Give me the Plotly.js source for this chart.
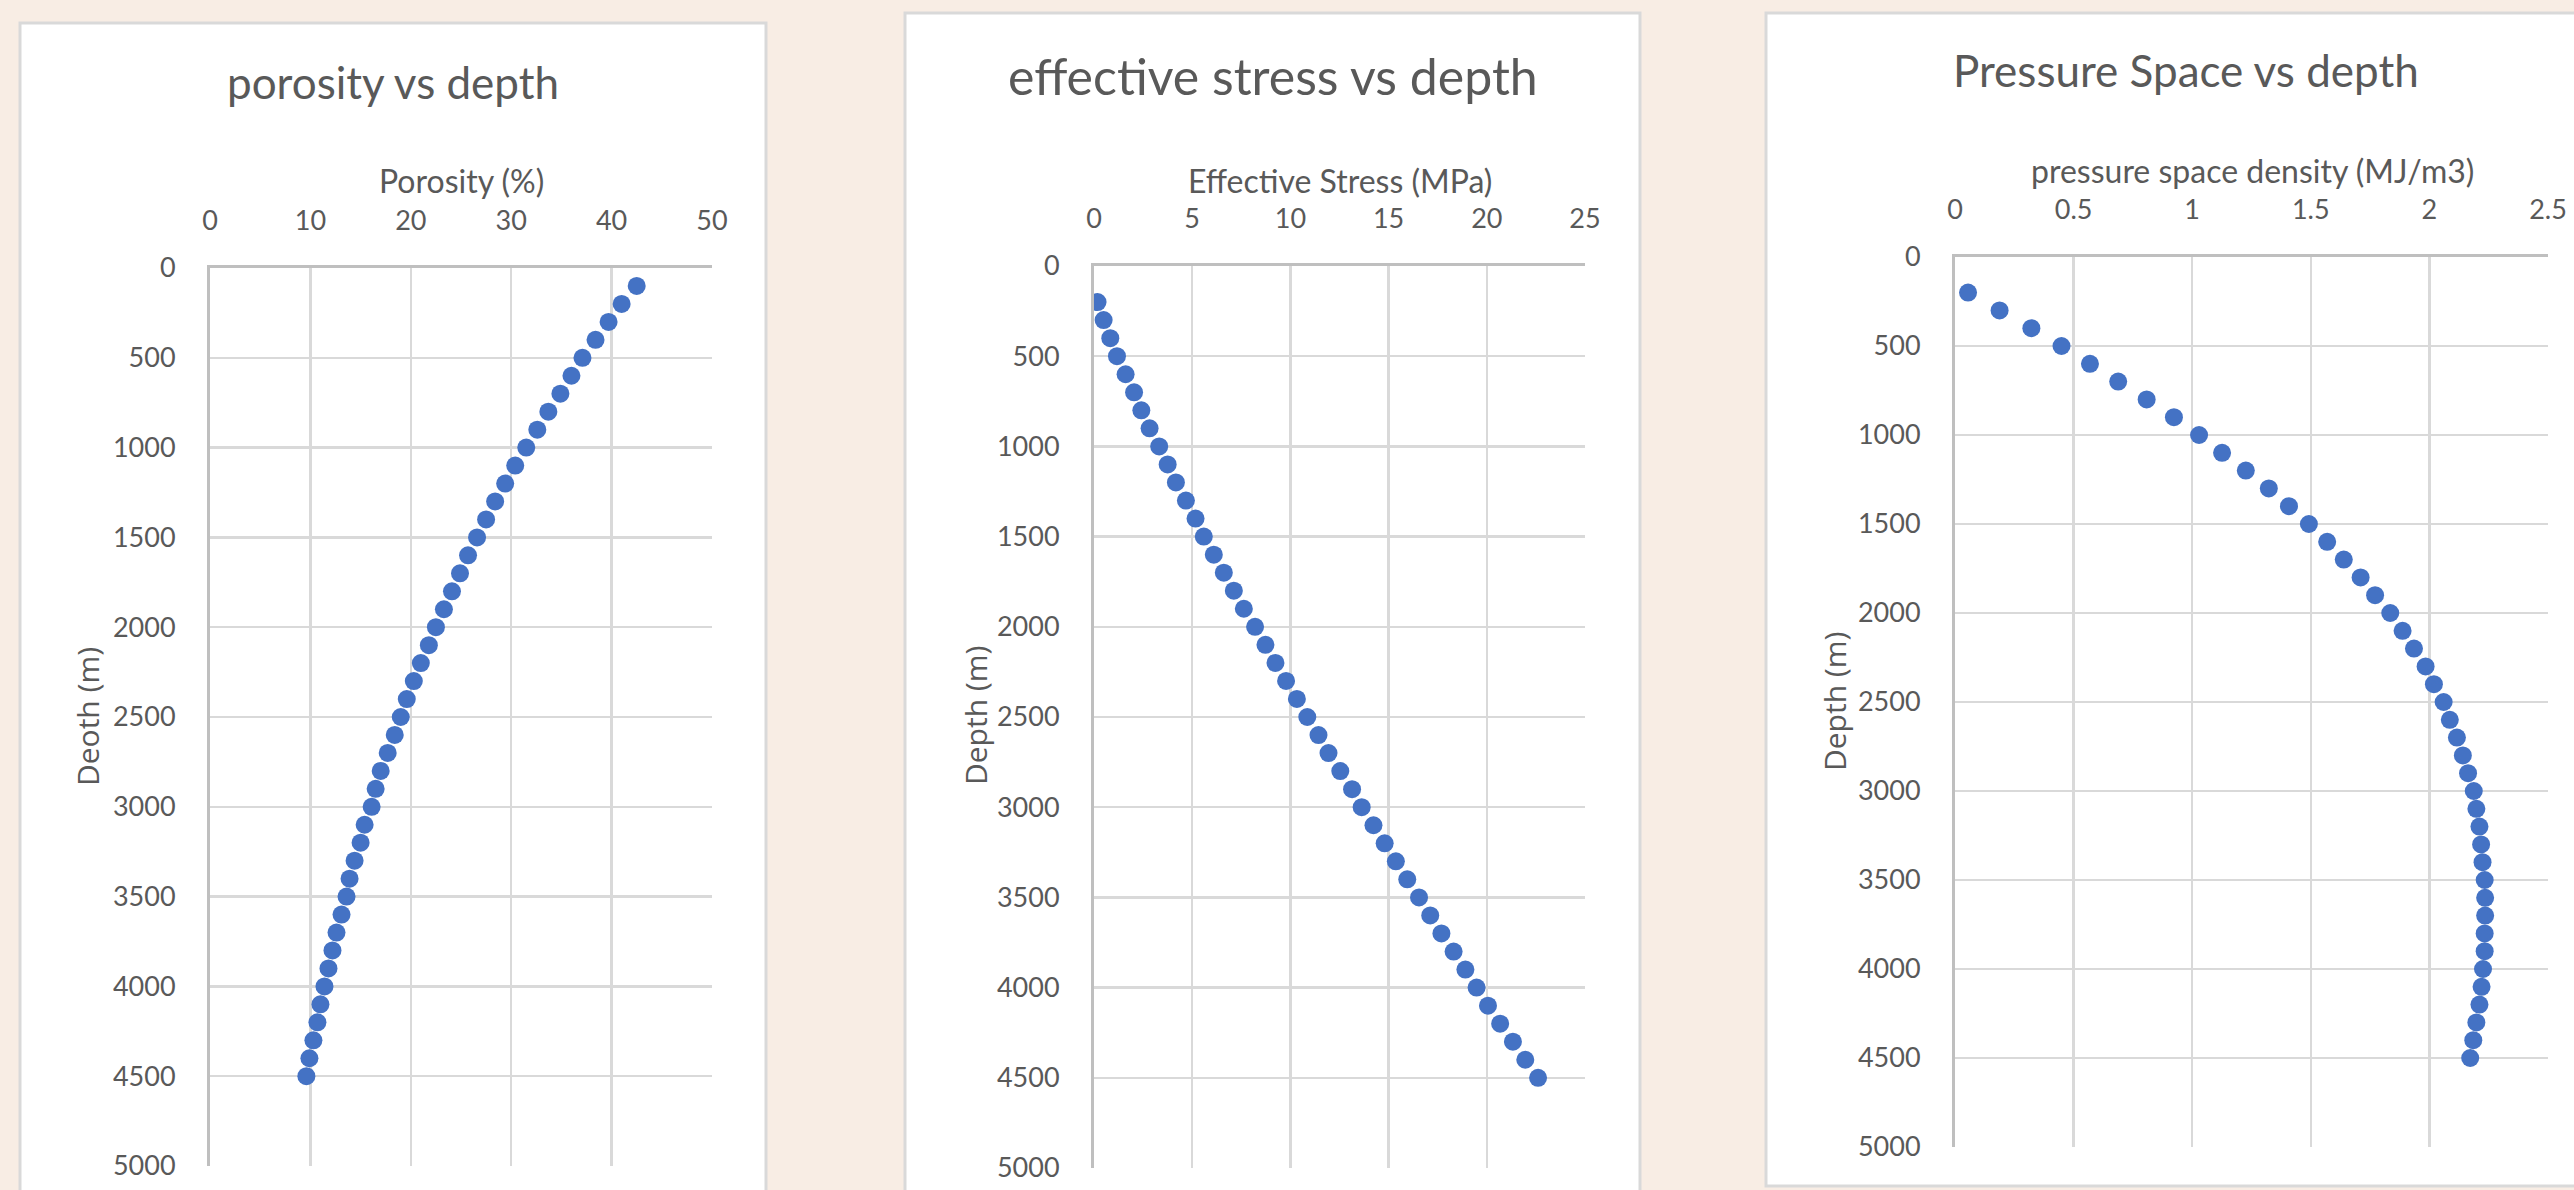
<!DOCTYPE html>
<html>
<head>
<meta charset="utf-8">
<script src="https://cdn.plot.ly/plotly-3.0.1.min.js"></script>
<style>
  html, body { margin: 0; padding: 0; background: #F8EDE4; }
  #chart { width: 2574px; height: 1190px; }
</style>
</head>
<body>
<div id="chart"></div>
<script>
// Depth samples (m) for each well-log panel
const depthPorosity = [100, 200, 300, 400, 500, 600, 700, 800, 900, 1000,
  1100, 1200, 1300, 1400, 1500, 1600, 1700, 1800, 1900, 2000,
  2100, 2200, 2300, 2400, 2500, 2600, 2700, 2800, 2900, 3000,
  3100, 3200, 3300, 3400, 3500, 3600, 3700, 3800, 3900, 4000,
  4100, 4200, 4300, 4400, 4500];
const porosity = [42.5, 41.0, 39.7, 38.4, 37.1, 36.0, 34.9, 33.7, 32.6, 31.5,
  30.4, 29.4, 28.4, 27.5, 26.6, 25.7, 24.9, 24.1, 23.3, 22.5,
  21.8, 21.0, 20.3, 19.6, 19.0, 18.4, 17.7, 17.0, 16.5, 16.1,
  15.4, 15.0, 14.4, 13.9, 13.6, 13.1, 12.6, 12.2, 11.8, 11.4,
  11.0, 10.7, 10.3, 9.9, 9.6];

const depthStress = [200, 300, 400, 500, 600, 700, 800, 900, 1000,
  1100, 1200, 1300, 1400, 1500, 1600, 1700, 1800, 1900, 2000,
  2100, 2200, 2300, 2400, 2500, 2600, 2700, 2800, 2900, 3000,
  3100, 3200, 3300, 3400, 3500, 3600, 3700, 3800, 3900, 4000,
  4100, 4200, 4300, 4400, 4500];
const effectiveStress = [0.18, 0.49, 0.83, 1.17, 1.61, 2.04, 2.41, 2.83, 3.32,
  3.75, 4.17, 4.68, 5.17, 5.59, 6.10, 6.61, 7.12, 7.63, 8.20,
  8.73, 9.24, 9.78, 10.33, 10.86, 11.43, 11.94, 12.54, 13.14, 13.63,
  14.23, 14.80, 15.37, 15.95, 16.55, 17.12, 17.69, 18.31, 18.91, 19.48,
  20.06, 20.68, 21.33, 21.96, 22.61];

const depthPressure = [200, 300, 400, 500, 600, 700, 800, 900, 1000,
  1100, 1200, 1300, 1400, 1500, 1600, 1700, 1800, 1900, 2000,
  2100, 2200, 2300, 2400, 2500, 2600, 2700, 2800, 2900, 3000,
  3100, 3200, 3300, 3400, 3500, 3600, 3700, 3800, 3900, 4000,
  4100, 4200, 4300, 4400, 4500];
const pressureSpace = [0.055, 0.188, 0.322, 0.449, 0.569, 0.688, 0.808, 0.923, 1.029,
  1.126, 1.226, 1.323, 1.408, 1.492, 1.569, 1.639, 1.710, 1.771, 1.835,
  1.887, 1.935, 1.984, 2.019, 2.060, 2.086, 2.116, 2.141, 2.163, 2.187,
  2.198, 2.211, 2.218, 2.224, 2.233, 2.235, 2.235, 2.233, 2.233, 2.226,
  2.220, 2.211, 2.198, 2.185, 2.172];

// Text for each panel
const panelTitles = ['porosity vs depth', 'effective stress vs depth', 'Pressure Space vs depth'];
const xTitles = ['Porosity (%)', 'Effective Stress (MPa)', 'pressure space density (MJ/m3)'];
const yTitles = ['Deoth (m)', 'Depth (m)', 'Depth (m)'];

const W = 2574, H = 1190;
const px = v => v / W;
const py = v => 1 - v / H;

const TXT = '#595959';
const GRID = '#D9D9D9';
const AXIS = '#BFBFBF';
const BLUE = '#4472C4';
const tickFont = { family: 'Lato, sans-serif', size: 27, color: TXT };

const marker = { color: BLUE, size: 18, line: { width: 0 } };

const traces = [
  { x: porosity, y: depthPorosity, xaxis: 'x', yaxis: 'y', mode: 'markers', type: 'scatter', marker },
  { x: effectiveStress, y: depthStress, xaxis: 'x2', yaxis: 'y2', mode: 'markers', type: 'scatter', marker },
  { x: pressureSpace, y: depthPressure, xaxis: 'x3', yaxis: 'y3', mode: 'markers', type: 'scatter', marker }
];

// Plot-area boxes in pixels: [left, right, top, bottom]
const boxes = [[210, 712, 268, 1166], [1094, 1585, 266, 1168], [1955, 2548, 257, 1147]];
const xRanges = [[0, 50], [0, 25], [0, 2.5]];
const xDticks = [10, 5, 0.5];

function xAxis(i) {
  const b = boxes[i];
  return {
    domain: [px(b[0]), px(b[1])], range: xRanges[i], dtick: xDticks[i], tick0: 0,
    side: 'top', anchor: i === 0 ? 'y' : 'y' + (i + 1),
    showgrid: true, gridcolor: GRID, gridwidth: 2.5,
    showline: true, linecolor: AXIS, linewidth: 3,
    zeroline: false, ticks: '', ticklabelstandoff: 24,
    tickfont: tickFont, fixedrange: true
  };
}
function yAxis(i) {
  const b = boxes[i];
  return {
    domain: [py(b[3]), py(b[2])], range: [5000, 0], dtick: 500, tick0: 0,
    anchor: i === 0 ? 'x' : 'x' + (i + 1),
    showgrid: true, gridcolor: GRID, gridwidth: 2.5,
    showline: true, linecolor: AXIS, linewidth: 3,
    zeroline: false, ticks: '', ticklabelstandoff: 26,
    tickfont: tickFont, fixedrange: true
  };
}

// White chart panels with light grey frames
const panels = [[20, 766, 23, 1230], [905, 1640, 13, 1230], [1766, 2606, 13, 1186]];
const shapes = panels.map(p => ({
  type: 'rect', xref: 'paper', yref: 'paper', layer: 'below',
  x0: px(p[0]), x1: px(p[1]), y0: py(p[3]), y1: py(p[2]),
  fillcolor: '#FFFFFF', line: { color: GRID, width: 3 }
}));

const titlePos = [[393, 82, 44], [1273, 76, 50], [2186, 70, 44]];
const xTitlePos = [[461, 180], [1340, 180], [2252, 171]];
const yTitlePos = [[87, 717], [975, 716], [1834, 702]];

const annotations = [];
for (let i = 0; i < 3; i++) {
  annotations.push({
    text: panelTitles[i], xref: 'paper', yref: 'paper', showarrow: false,
    x: px(titlePos[i][0]), y: py(titlePos[i][1]), xanchor: 'center', yanchor: 'middle',
    font: { family: 'Lato, sans-serif', size: titlePos[i][2], color: TXT }
  });
  annotations.push({
    text: xTitles[i], xref: 'paper', yref: 'paper', showarrow: false,
    x: px(xTitlePos[i][0]), y: py(xTitlePos[i][1]), xanchor: 'center', yanchor: 'middle',
    font: { family: 'Lato, sans-serif', size: 32, color: TXT }
  });
  annotations.push({
    text: yTitles[i], xref: 'paper', yref: 'paper', showarrow: false, textangle: -90,
    x: px(yTitlePos[i][0]), y: py(yTitlePos[i][1]), xanchor: 'center', yanchor: 'middle',
    font: { family: '"Open Sans", sans-serif', size: 30, color: TXT }
  });
}

const layout = {
  width: W, height: H,
  margin: { l: 0, r: 0, t: 0, b: 0 },
  paper_bgcolor: '#F8EDE4', plot_bgcolor: 'rgba(0,0,0,0)',
  showlegend: false,
  xaxis: xAxis(0), yaxis: yAxis(0),
  xaxis2: xAxis(1), yaxis2: yAxis(1),
  xaxis3: xAxis(2), yaxis3: yAxis(2),
  shapes, annotations
};

Plotly.newPlot('chart', traces, layout, { staticPlot: true, displayModeBar: false });
</script>
</body>
</html>
